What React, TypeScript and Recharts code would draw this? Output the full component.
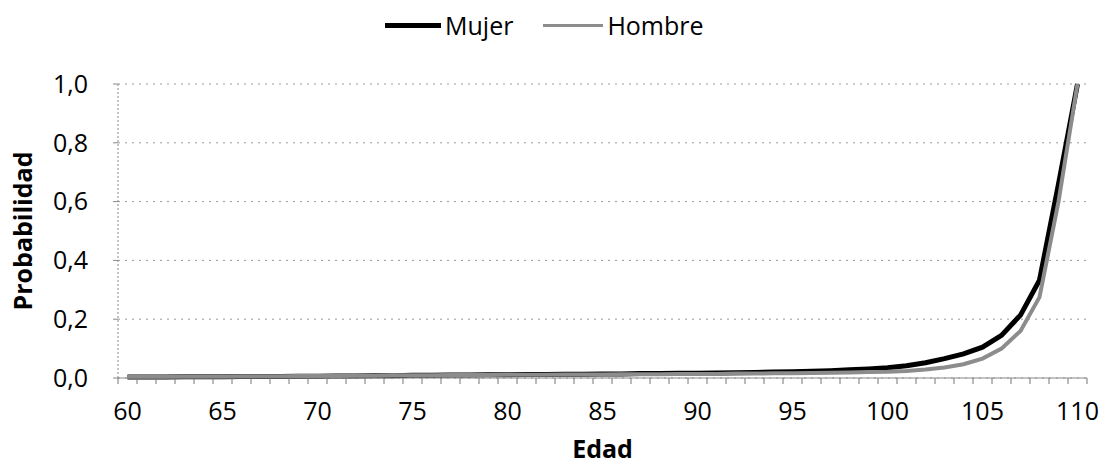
import React from 'react';
import { LineChart, Line, XAxis, YAxis, CartesianGrid, Legend } from 'recharts';

// Edad 60..110
const ages = [
  60, 61, 62, 63, 64, 65, 66, 67, 68, 69,
  70, 71, 72, 73, 74, 75, 76, 77, 78, 79,
  80, 81, 82, 83, 84, 85, 86, 87, 88, 89,
  90, 91, 92, 93, 94, 95, 96, 97, 98, 99,
  100, 101, 102, 103, 104, 105, 106, 107, 108, 109, 110,
];

const mujer = [
  0.003, 0.003, 0.003, 0.004, 0.004, 0.004, 0.005, 0.005, 0.005, 0.006,
  0.006, 0.007, 0.007, 0.008, 0.008, 0.009, 0.009, 0.010, 0.010, 0.011,
  0.011, 0.012, 0.012, 0.013, 0.013, 0.014, 0.014, 0.015, 0.015, 0.016,
  0.016, 0.017, 0.018, 0.019, 0.020, 0.021, 0.023, 0.025, 0.028, 0.031,
  0.035, 0.042, 0.052, 0.066, 0.082, 0.105, 0.145, 0.214, 0.333, 0.66, 1.0,
];

const hombre = [
  0.004, 0.004, 0.004, 0.005, 0.005, 0.005, 0.006, 0.006, 0.006, 0.007,
  0.007, 0.007, 0.008, 0.008, 0.009, 0.009, 0.009, 0.010, 0.010, 0.010,
  0.011, 0.011, 0.011, 0.012, 0.012, 0.012, 0.013, 0.013, 0.013, 0.014,
  0.014, 0.014, 0.015, 0.015, 0.016, 0.016, 0.017, 0.018, 0.019, 0.020,
  0.021, 0.024, 0.029, 0.036, 0.047, 0.066, 0.100, 0.160, 0.275, 0.60, 1.0,
];

const labelTicks = [60, 65, 70, 75, 80, 85, 90, 95, 100, 105, 110];
const yTicks = [0, 0.2, 0.4, 0.6, 0.8, 1.0];

const data = ages.map((age, i) => ({ age, mujer: mujer[i], hombre: hombre[i] }));

// Excel puts tick marks between categories, labels on the categories
const boundaryTicks = ages.map((a) => a - 0.5).concat([ages[ages.length - 1] + 0.5]);
const xTicks = [...boundaryTicks, ...labelTicks].sort((a, b) => a - b);

const FONT = "'Open Sans', sans-serif";

const XTick = (props: any) => {
  const { x, y, payload } = props;
  const v = payload.value;
  if (v % 1 !== 0) {
    return <line x1={x} x2={x} y1={y} y2={y + 6} stroke="#777" strokeWidth={1} />;
  }
  return (
    <text x={x} y={y + 42} textAnchor="middle" fontSize={25} fill="#000" fontFamily={FONT}>
      {v}
    </text>
  );
};

const LegendContent = () => (
  <div style={{ display: 'flex', alignItems: 'center', fontFamily: FONT, fontSize: 25, color: '#000' }}>
    <div style={{ width: 56, height: 5, background: '#000', marginRight: 4 }} />
    <span>Mujer</span>
    <div style={{ width: 60, height: 3, background: '#8c8c8c', marginLeft: 30, marginRight: 4 }} />
    <span>Hombre</span>
  </div>
);

export default function App() {
  return (
    <div style={{ position: 'fixed', left: 0, top: 0, width: 1106, height: 468, background: '#fff' }}>
      <LineChart
        width={1106}
        height={468}
        data={data}
        margin={{ top: 84, right: 19, bottom: 30, left: 0 }}
        style={{ fontFamily: FONT }}
      >
        <CartesianGrid vertical={false} stroke="#9a9a9a" strokeDasharray="2 5" />
        <XAxis
          dataKey="age"
          type="number"
          domain={[59.5, 110.5]}
          ticks={xTicks}
          interval={0}
          height={60}
          tickSize={0}
          tickMargin={0}
          tickLine={false}
          axisLine={{ stroke: '#888' }}
          tick={<XTick />}
          label={{
            content: (p: any) => {
              const vb = p.viewBox;
              return (
                <text
                  x={vb.x + vb.width / 2}
                  y={458}
                  textAnchor="middle"
                  fontSize={25}
                  fontWeight="bold"
                  fill="#000"
                  fontFamily={FONT}
                >
                  Edad
                </text>
              );
            },
          }}
        />
        <YAxis
          domain={[0, 1]}
          ticks={yTicks}
          interval={0}
          width={118}
          tickSize={5}
          tickMargin={25}
          tickLine={{ stroke: '#888' }}
          axisLine={{ stroke: '#888', strokeDasharray: '2 2' }}
          tick={{ fill: '#000', fontSize: 25, fontFamily: FONT }}
          tickFormatter={(v: number) => v.toFixed(1).replace('.', ',')}
          label={{
            content: (p: any) => {
              const vb = p.viewBox;
              const cy = vb.y + vb.height / 2;
              return (
                <text
                  x={32}
                  y={cy}
                  transform={`rotate(-90, 32, ${cy})`}
                  textAnchor="middle"
                  fontSize={25}
                  fontWeight="bold"
                  fill="#000"
                  fontFamily={FONT}
                >
                  Probabilidad
                </text>
              );
            },
          }}
        />
        <Legend
          verticalAlign="middle"
          align="center"
          layout="horizontal"
          content={<LegendContent />}
          wrapperStyle={{ top: 8, left: 385, width: 'auto' }}
        />
        <Line
          type="linear"
          dataKey="mujer"
          name="Mujer"
          stroke="#000"
          strokeWidth={5}
          dot={false}
          isAnimationActive={false}
        />
        <Line
          type="linear"
          dataKey="hombre"
          name="Hombre"
          stroke="#8c8c8c"
          strokeWidth={4}
          dot={false}
          isAnimationActive={false}
        />
      </LineChart>
    </div>
  );
}
